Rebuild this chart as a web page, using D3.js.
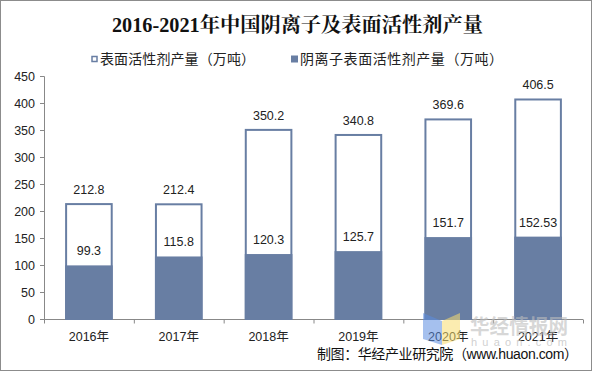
<!DOCTYPE html>
<html>
<head>
<meta charset="utf-8">
<script src="https://cdn.jsdelivr.net/npm/d3@7"></script>
<style>
  body { margin: 0; background: #fff; }
  svg { display: block; }
</style>
</head>
<body>
<div id="chart"></div>
<script>
(function () {
	'use strict';

	// data
	var years = ["2016年", "2017年", "2018年", "2019年", "2020年", "2021年"];
	var totalOutput = [212.8, 212.4, 350.2, 340.8, 369.6, 406.5];
	var anionicOutput = [99.3, 115.8, 120.3, 125.7, 151.7, 152.53];
	var yTicks = [0, 50, 100, 150, 200, 250, 300, 350, 400, 450];
	var seriesNames = ["表面活性剂产量（万吨）", "阴离子表面活性剂产量（万吨）"];

	var W = 593, H = 372;
	var barColor = "#687ea3";
	var font = "Arial, 'Liberation Sans', 'Noto Sans CJK SC', sans-serif";

	var svg = d3.select("#chart").append("svg")
		.attr("width", W)
		.attr("height", H);

	// outer frame
	svg.append("rect")
		.attr("x", 0.5).attr("y", 0.5)
		.attr("width", W - 2).attr("height", H - 2)
		.attr("fill", "#fff")
		.attr("stroke", "#8c8c8c");

	// title
	svg.append("text")
		.attr("x", 112).attr("y", 32)
		.attr("textLength", 371)
		.attr("lengthAdjust", "spacingAndGlyphs")
		.attr("font-family", "'Liberation Serif', 'Noto Serif CJK SC', 'Noto Sans CJK SC', serif")
		.attr("font-weight", "bold")
		.attr("font-size", 20)
		.attr("fill", "#111")
		.text("2016-2021年中国阴离子及表面活性剂产量");

	// legend
	var legend = svg.append("g").attr("font-family", font).attr("font-size", 14).attr("fill", "#222");
	legend.append("rect")
		.attr("x", 92).attr("y", 56.5).attr("width", 5).attr("height", 5)
		.attr("fill", "#fff").attr("stroke", barColor).attr("stroke-width", 1.5);
	legend.append("text").attr("x", 100).attr("y", 64)
		.attr("textLength", 155).attr("lengthAdjust", "spacing")
		.text(seriesNames[0]);
	legend.append("rect")
		.attr("x", 291).attr("y", 55.5).attr("width", 7).attr("height", 7)
		.attr("fill", barColor);
	legend.append("text").attr("x", 300).attr("y", 64)
		.attr("textLength", 203).attr("lengthAdjust", "spacing")
		.text(seriesNames[1]);

	// scales
	var x = d3.scaleBand().domain(years).range([44, 583]).paddingInner(0.47).paddingOuter(0.235);
	var y = d3.scaleLinear().domain([0, 450]).range([319, 76]);

	// y axis
	var yAxis = svg.append("g")
		.attr("transform", "translate(44,0)")
		.call(d3.axisLeft(y).tickValues(yTicks).tickSize(4).tickPadding(5));
	yAxis.select(".domain").attr("stroke", "#888");
	yAxis.selectAll(".tick line").attr("stroke", "#888");
	yAxis.selectAll("text").attr("font-family", font).attr("font-size", 12.5).attr("fill", "#222");

	// x axis with ticks at category boundaries
	var xAxisG = svg.append("g").attr("transform", "translate(0,319.5)");
	xAxisG.append("line")
		.attr("x1", 44).attr("x2", 583)
		.attr("stroke", "#888");
	var step = x.step();
	xAxisG.selectAll("line.tk")
		.data(d3.range(years.length + 1))
		.enter().append("line")
		.attr("class", "tk")
		.attr("x1", function (i) { return 44 + i * step + 0.5; })
		.attr("x2", function (i) { return 44 + i * step + 0.5; })
		.attr("y1", 0).attr("y2", 4)
		.attr("stroke", "#888");
	xAxisG.selectAll("text")
		.data(years)
		.enter().append("text")
		.attr("x", function (d) { return x(d) + x.bandwidth() / 2; })
		.attr("y", 21)
		.attr("text-anchor", "middle")
		.attr("font-family", font).attr("font-size", 12.5).attr("fill", "#222")
		.text(function (d) { return d; });

	// total output bars (hollow)
	svg.selectAll("rect.total")
		.data(totalOutput)
		.enter().append("rect")
		.attr("class", "total")
		.attr("x", function (d, i) { return x(years[i]) + 1; })
		.attr("y", function (d) { return y(d); })
		.attr("width", x.bandwidth() - 2)
		.attr("height", function (d) { return y(0) - y(d); })
		.attr("fill", "#fff")
		.attr("stroke", barColor)
		.attr("stroke-width", 2);

	// anionic output bars (filled, overlapping)
	svg.selectAll("rect.anionic")
		.data(anionicOutput)
		.enter().append("rect")
		.attr("class", "anionic")
		.attr("x", function (d, i) { return x(years[i]); })
		.attr("y", function (d) { return y(d); })
		.attr("width", x.bandwidth())
		.attr("height", function (d) { return y(0) - y(d); })
		.attr("fill", barColor);

	// value labels
	svg.selectAll("text.totalLbl")
		.data(totalOutput)
		.enter().append("text")
		.attr("class", "totalLbl")
		.attr("x", function (d, i) { return x(years[i]) + x.bandwidth() / 2; })
		.attr("y", function (d) { return y(d) - 10; })
		.attr("text-anchor", "middle")
		.attr("font-family", font).attr("font-size", 12.5).attr("fill", "#222")
		.text(function (d) { return d; });

	svg.selectAll("text.anionicLbl")
		.data(anionicOutput)
		.enter().append("text")
		.attr("class", "anionicLbl")
		.attr("x", function (d, i) { return x(years[i]) + x.bandwidth() / 2; })
		.attr("y", function (d) { return y(d) - 10; })
		.attr("text-anchor", "middle")
		.attr("font-family", font).attr("font-size", 12.5).attr("fill", "#222")
		.text(function (d) { return d; });

	// watermark logo
	svg.append("polygon")
		.attr("points", "423,313 442,321 442,345 423,339")
		.attr("fill", "#5b8de0").attr("fill-opacity", 0.55);
	svg.append("polygon")
		.attr("points", "442,321 460,313 460,339 442,345")
		.attr("fill", "#f7dc6f").attr("fill-opacity", 0.55);
	svg.append("text")
		.attr("x", 470).attr("y", 334)
		.attr("textLength", 98)
		.attr("lengthAdjust", "spacingAndGlyphs")
		.attr("font-family", "'Noto Sans CJK SC', sans-serif")
		.attr("font-weight", "bold")
		.attr("font-size", 20)
		.attr("fill", "#bdbdbd").attr("fill-opacity", 0.6)
		.text("华经情报网");
	svg.append("text")
		.attr("x", 471).attr("y", 346)
		.attr("textLength", 96)
		.attr("lengthAdjust", "spacing")
		.attr("font-family", font)
		.attr("font-size", 11)
		.attr("fill", "#c4c4c4").attr("fill-opacity", 0.8)
		.text("huaon.com");

	// source
	svg.append("text")
		.attr("x", 317).attr("y", 359)
		.attr("textLength", 261)
		.attr("lengthAdjust", "spacing")
		.attr("font-family", font).attr("font-size", 14).attr("fill", "#111")
		.text("制图：华经产业研究院（www.huaon.com）");
}());
</script>
</body>
</html>
